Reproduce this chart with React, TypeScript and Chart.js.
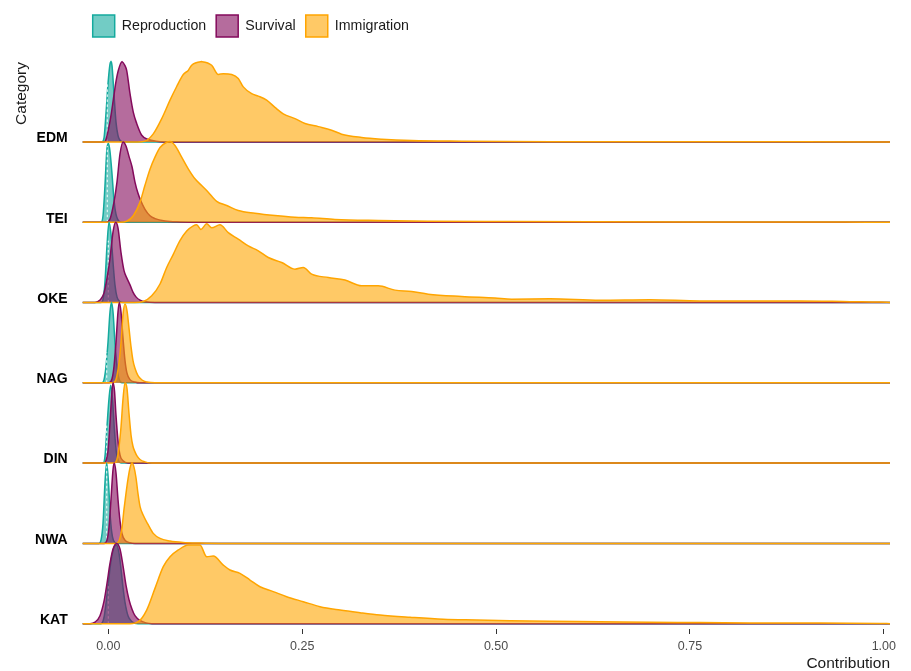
import React, { useEffect, useRef } from 'react';
import { Chart, registerables } from 'chart.js';

Chart.register(...registerables);

// ---------- data ----------
const categories = ['EDM', 'TEI', 'OKE', 'NAG', 'DIN', 'NWA', 'KAT']; // top to bottom
const seriesNames = ['Reproduction', 'Survival', 'Immigration'];
const xTicks = [0, 0.25, 0.5, 0.75, 1];
const X_MIN = -0.033;
const X_MAX = 1.008;

// density curves: [contribution, scaled density height (1 = one ridge spacing)]
const edmReproduction = [[-0.0081, 0], [-0.0055, 0.05], [-0.003, 0.35], [-0.0004, 0.72], [0.0022, 0.97], [0.0035, 1.0], [0.0048, 0.95], [0.0073, 0.6], [0.0099, 0.25], [0.0125, 0.08], [0.0151, 0.02], [0.019, 0]];
const edmSurvival = [[-0.0055, 0], [-0.003, 0.03], [0, 0.146], [0.0035, 0.33], [0.0064, 0.52], [0.0099, 0.75], [0.0129, 0.89], [0.0177, 1.0], [0.0215, 0.95], [0.0237, 0.89], [0.028, 0.6], [0.0322, 0.37], [0.0366, 0.23], [0.0431, 0.083], [0.0516, 0.03], [0.0615, 0.008], [0.0731, 0]];
const edmImmigration = [[0.038, 0], [0.0473, 0.01], [0.058, 0.1], [0.0689, 0.29], [0.0796, 0.52], [0.0882, 0.69], [0.0967, 0.84], [0.1031, 0.89], [0.1075, 0.955], [0.1204, 1.0], [0.1333, 0.955], [0.1418, 0.84], [0.1483, 0.85], [0.1591, 0.84], [0.1676, 0.79], [0.1741, 0.685], [0.1849, 0.6], [0.1934, 0.57], [0.2042, 0.52], [0.2149, 0.43], [0.2256, 0.35], [0.2407, 0.29], [0.2536, 0.23], [0.2708, 0.19], [0.288, 0.146], [0.3009, 0.096], [0.3267, 0.055], [0.3525, 0.034], [0.3912, 0.017], [0.4556, 0.009], [0.57, 0.003]];

const teiReproduction = [[-0.0094, 0], [-0.0068, 0.08], [-0.0043, 0.45], [-0.0017, 0.92], [0.0003, 0.98], [0.0022, 0.88], [0.0048, 0.6], [0.0073, 0.28], [0.0099, 0.1], [0.0125, 0.03], [0.0164, 0]];
const teiSurvival = [[-0.0029, 0], [0.0022, 0.04], [0.0073, 0.25], [0.0112, 0.5], [0.0151, 0.85], [0.019, 1.0], [0.0228, 0.95], [0.0267, 0.82], [0.0306, 0.69], [0.0344, 0.5], [0.0383, 0.36], [0.0422, 0.26], [0.0473, 0.16], [0.0538, 0.08], [0.0602, 0.045], [0.0731, 0.015], [0.0925, 0.004], [0.1182, 0]];
const teiImmigration = [[0.015, 0], [0.0237, 0.012], [0.0322, 0.08], [0.0409, 0.25], [0.0473, 0.46], [0.0538, 0.66], [0.0602, 0.81], [0.0667, 0.93], [0.0753, 0.996], [0.0796, 1.005], [0.086, 0.955], [0.0946, 0.81], [0.1031, 0.665], [0.1118, 0.54], [0.1204, 0.457], [0.1289, 0.374], [0.1398, 0.26], [0.1527, 0.208], [0.1676, 0.146], [0.1891, 0.112], [0.2149, 0.083], [0.2407, 0.062], [0.2622, 0.055], [0.2923, 0.034], [0.3481, 0.021], [0.4122, 0.013], [0.5201, 0.009], [0.62, 0.006], [0.8, 0.003], [0.95, 0.001]];

const okeReproduction = [[-0.0094, 0], [-0.0068, 0.04], [-0.0043, 0.25], [-0.0017, 0.7], [0.0009, 1.0], [0.0035, 0.85], [0.0061, 0.5], [0.0086, 0.22], [0.0112, 0.07], [0.0151, 0.01], [0.019, 0]];
const okeSurvival = [[-0.0171, 0], [-0.0107, 0.03], [-0.0055, 0.12], [-0.0017, 0.3], [0.0022, 0.55], [0.0061, 0.88], [0.0095, 1.0], [0.0125, 0.93], [0.0164, 0.62], [0.0202, 0.4], [0.0241, 0.3], [0.028, 0.22], [0.0318, 0.13], [0.0357, 0.07], [0.0409, 0.03], [0.0486, 0.008], [0.0602, 0]];
const okeImmigration = [[0.0344, 0], [0.0451, 0.012], [0.056, 0.083], [0.0667, 0.23], [0.0753, 0.436], [0.0838, 0.6], [0.0924, 0.77], [0.1011, 0.89], [0.1096, 0.955], [0.114, 0.968], [0.1195, 0.91], [0.1269, 0.98], [0.1333, 0.93], [0.144, 0.968], [0.1547, 0.87], [0.1676, 0.79], [0.1805, 0.705], [0.1934, 0.644], [0.2063, 0.56], [0.2236, 0.498], [0.2407, 0.415], [0.2514, 0.436], [0.2622, 0.353], [0.2837, 0.311], [0.3052, 0.279], [0.3267, 0.208], [0.3481, 0.208], [0.3696, 0.154], [0.3912, 0.137], [0.4126, 0.104], [0.4556, 0.075], [0.4986, 0.055], [0.5201, 0.042], [0.5697, 0.046], [0.634, 0.027], [0.6984, 0.034], [0.7629, 0.02], [0.8918, 0.02], [0.9564, 0.01], [0.9951, 0.005]];

const nagReproduction = [[-0.0081, 0], [-0.0055, 0.04], [-0.003, 0.2], [-0.0004, 0.5], [0.0022, 0.88], [0.0041, 1.0], [0.0061, 0.88], [0.0086, 0.5], [0.0112, 0.2], [0.0138, 0.05], [0.0177, 0]];
const nagSurvival = [[0.0009, 0], [0.0048, 0.05], [0.0073, 0.2], [0.0099, 0.5], [0.0125, 0.88], [0.0142, 1.0], [0.0164, 0.88], [0.019, 0.55], [0.0215, 0.28], [0.0241, 0.12], [0.028, 0.04], [0.0344, 0.01], [0.0409, 0]];
const nagImmigration = [[0.0061, 0], [0.0099, 0.04], [0.0138, 0.25], [0.0164, 0.5], [0.019, 0.85], [0.0215, 0.98], [0.0241, 0.9], [0.0267, 0.68], [0.0293, 0.45], [0.0318, 0.28], [0.0344, 0.18], [0.0383, 0.09], [0.0435, 0.035], [0.0499, 0.01], [0.0602, 0]];

const dinReproduction = [[-0.0068, 0], [-0.0043, 0.08], [-0.0017, 0.45], [0.0009, 0.8], [0.0031, 0.97], [0.0054, 0.8], [0.008, 0.4], [0.0106, 0.12], [0.0132, 0.03], [0.0164, 0]];
const dinSurvival = [[-0.0055, 0], [-0.003, 0.03], [-0.0004, 0.15], [0.0022, 0.5], [0.0048, 0.9], [0.0061, 1.0], [0.008, 0.9], [0.0099, 0.6], [0.0125, 0.28], [0.0151, 0.1], [0.019, 0.03], [0.0254, 0]];
const dinImmigration = [[0.0073, 0], [0.0112, 0.05], [0.0138, 0.2], [0.0164, 0.45], [0.019, 0.8], [0.0215, 1.0], [0.0241, 0.93], [0.0267, 0.62], [0.0293, 0.35], [0.0318, 0.21], [0.0344, 0.14], [0.037, 0.09], [0.0409, 0.045], [0.0473, 0.015], [0.0563, 0]];

const nwaReproduction = [[-0.012, 0], [-0.0094, 0.04], [-0.0068, 0.25], [-0.0043, 0.75], [-0.0021, 1.0], [0.0003, 0.75], [0.0028, 0.3], [0.0054, 0.08], [0.0086, 0.01], [0.0125, 0]];
const nwaSurvival = [[-0.0055, 0], [-0.0017, 0.04], [0.0009, 0.2], [0.0035, 0.55], [0.0061, 0.92], [0.0077, 1.0], [0.0099, 0.88], [0.0125, 0.55], [0.0151, 0.28], [0.0177, 0.12], [0.0215, 0.04], [0.028, 0.008], [0.0344, 0]];
const nwaImmigration = [[0.0099, 0], [0.0138, 0.03], [0.0177, 0.2], [0.0202, 0.42], [0.0228, 0.62], [0.0254, 0.8], [0.028, 0.94], [0.0306, 1.0], [0.0331, 0.95], [0.0357, 0.82], [0.0383, 0.62], [0.0409, 0.46], [0.0451, 0.35], [0.0516, 0.23], [0.058, 0.125], [0.0667, 0.062], [0.0796, 0.03], [0.0963, 0.012], [0.1182, 0.004], [0.144, 0]];

const katReproduction = [[-0.0094, 0], [-0.0055, 0.08], [-0.003, 0.25], [0, 0.5], [0.0035, 0.78], [0.0073, 0.95], [0.0106, 0.98], [0.0138, 0.88], [0.0164, 0.68], [0.019, 0.45], [0.0215, 0.27], [0.0254, 0.1], [0.0306, 0.025], [0.0383, 0]];
const katSurvival = [[-0.0236, 0], [-0.0171, 0.02], [-0.0107, 0.1], [-0.0055, 0.28], [-0.0017, 0.5], [0.0022, 0.75], [0.0061, 0.93], [0.0108, 1.0], [0.0151, 0.93], [0.019, 0.72], [0.0228, 0.48], [0.0267, 0.3], [0.0306, 0.18], [0.0344, 0.1], [0.0409, 0.04], [0.0486, 0.01], [0.0563, 0]];
const katImmigration = [[0.028, 0], [0.0387, 0.025], [0.0495, 0.17], [0.0602, 0.44], [0.0709, 0.71], [0.0796, 0.834], [0.0903, 0.918], [0.1031, 0.98], [0.1182, 0.98], [0.1269, 0.834], [0.1354, 0.843], [0.1483, 0.73], [0.1569, 0.669], [0.1698, 0.627], [0.1827, 0.544], [0.1956, 0.46], [0.2127, 0.4], [0.23, 0.336], [0.2514, 0.274], [0.273, 0.212], [0.2988, 0.17], [0.3246, 0.137], [0.3504, 0.108], [0.3891, 0.08], [0.4319, 0.055], [0.475, 0.046], [0.5179, 0.037], [0.5695, 0.03], [0.634, 0.025], [0.6984, 0.018], [0.7629, 0.015], [0.8273, 0.01], [0.8918, 0.008], [0.9951, 0.004]];

// reproduction median (quantile line) per category, and its density height
const medianX = [-0.0013, -0.0013, 0, -0.002, -0.002, -0.002, 0];
const medianHeight = [0.73, 0.95, 0.77, 0.38, 0.47, 0.96, 0.5];

// ---------- styles ----------
const strokeColors = ['rgb(20,170,158)', 'rgb(132,10,92)', 'rgb(255,165,0)'];
const fillColors = ['rgba(20,170,158,0.6)', 'rgba(132,10,92,0.6)', 'rgba(255,165,0,0.6)'];
const FONT = '"Liberation Sans", Arial, Helvetica, sans-serif';

const curveTable = [
  [edmReproduction, edmSurvival, edmImmigration],
  [teiReproduction, teiSurvival, teiImmigration],
  [okeReproduction, okeSurvival, okeImmigration],
  [nagReproduction, nagSurvival, nagImmigration],
  [dinReproduction, dinSurvival, dinImmigration],
  [nwaReproduction, nwaSurvival, nwaImmigration],
  [katReproduction, katSurvival, katImmigration],
];

function buildDatasets() {
  const ds: any[] = [];
  const n = categories.length;
  categories.forEach((cat, ci) => {
    const base = n - 1 - ci;
    curveTable[ci].forEach((pts, si) => {
      const full = [[X_MIN, 0], ...pts, [X_MAX, 0]];
      ds.push({
        label: `${cat} ${seriesNames[si]}`,
        data: full.map(([x, h]) => ({ x, y: base + h })),
        borderColor: strokeColors[si],
        backgroundColor: fillColors[si],
        borderWidth: 1.5,
        pointRadius: 0,
        fill: { value: base },
        cubicInterpolationMode: 'monotone',
        clip: false,
      });
      if (si === 0) {
        ds.push({
          label: `${cat} median`,
          data: [
            { x: medianX[ci], y: base },
            { x: medianX[ci], y: base + medianHeight[ci] },
          ],
          borderColor: 'rgba(255,255,255,0.95)',
          borderDash: [2.5, 2.5],
          borderWidth: 1,
          pointRadius: 0,
          fill: false,
          clip: false,
        });
      }
    });
  });
  const total = ds.length;
  ds.forEach((d, i) => { d.order = total - i; });
  return ds;
}

export default function App() {
  const ref = useRef<HTMLCanvasElement | null>(null);
  useEffect(() => {
    if (!ref.current) return;
    Chart.defaults.font.family = FONT;
    const nCat = categories.length;
    const chart = new Chart(ref.current, {
      type: 'line',
      data: { datasets: buildDatasets() },
      options: {
        responsive: false,
        animation: false,
        events: [],
        layout: { padding: { top: 5, right: 21, left: 0, bottom: 0 } },
        plugins: {
          tooltip: { enabled: false },
          legend: {
            display: true,
            position: 'top',
            align: 'start',
            fullSize: false,
            onClick: () => {},
            labels: {
              boxWidth: 22,
              boxHeight: 22,
              padding: 10,
              color: '#1a1a1a',
              font: { size: 14.2, family: FONT },
              generateLabels: () =>
                seriesNames.map((name, i) => ({
                  text: name,
                  fillStyle: fillColors[i],
                  strokeStyle: strokeColors[i],
                  lineWidth: 1.5,
                  hidden: false,
                  datasetIndex: i,
                  fontColor: '#1a1a1a',
                })),
            },
          },
        },
        scales: {
          x: {
            type: 'linear',
            position: 'bottom',
            min: X_MIN,
            max: X_MAX,
            afterBuildTicks: (s: any) => { s.ticks = xTicks.map((v) => ({ value: v })); },
            afterFit: (s: any) => { s.height = 42; },
            ticks: {
              color: '#4d4d4d',
              font: { size: 12.5, family: FONT },
              padding: 5,
              maxRotation: 0,
              callback: (v: any) => Number(v).toFixed(2),
            },
            grid: { display: true, drawOnChartArea: false, drawTicks: true, tickLength: 5, color: '#333333', lineWidth: 1 },
            border: { display: false },
            title: {
              display: true,
              text: 'Contribution',
              align: 'end',
              color: '#1a1a1a',
              font: { size: 15.5, family: FONT },
              padding: { top: 0, bottom: -2 },
            },
          },
          xTop: {
            type: 'linear',
            position: 'top',
            display: true,
            min: 0,
            max: 1,
            afterFit: (s: any) => { s.height = 15; },
            ticks: { display: false },
            grid: { display: false, drawTicks: false },
            border: { display: false },
          },
          y: {
            type: 'linear',
            position: 'left',
            min: -0.066,
            max: 6.995,
            afterBuildTicks: (s: any) => { s.ticks = categories.map((_, i) => ({ value: nCat - 1 - i })); },
            afterFit: (s: any) => { s.width = 82.7; },
            ticks: {
              color: '#000000',
              font: { size: 14, weight: 'bold', family: FONT },
              padding: 15,
              labelOffset: -3.5,
              callback: (v: any) => categories[nCat - 1 - Math.round(Number(v))] ?? '',
            },
            grid: { display: false, drawTicks: false },
            border: { display: false },
            title: {
              display: true,
              text: 'Category',
              align: 'end',
              color: '#1a1a1a',
              font: { size: 15.5, family: FONT },
              padding: { top: 12, bottom: 0 },
            },
          },
        },
      } as any,
    });
    return () => chart.destroy();
  }, []);

  return (
    <div style={{ position: 'fixed', left: 0, top: 0, width: 911, height: 671, background: '#ffffff' }}>
      <canvas ref={ref} width={911} height={671} style={{ display: 'block' }} />
    </div>
  );
}
